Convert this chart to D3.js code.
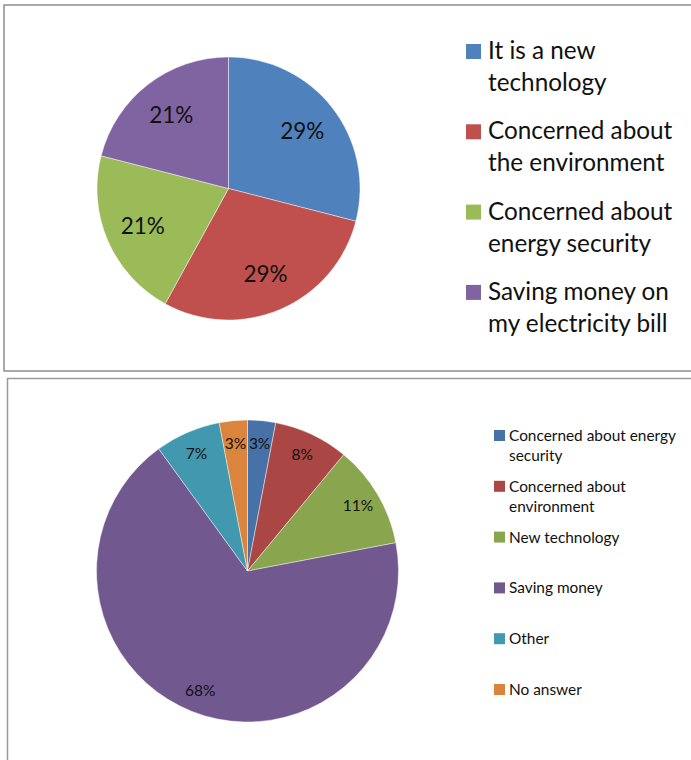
<!DOCTYPE html>
<html>
<head>
<meta charset="utf-8">
<script src="https://cdn.jsdelivr.net/npm/d3@7"></script>
<style>
  html, body { margin: 0; padding: 0; background: #fff; }
  svg { display: block; font-family: Lato, "Open Sans", sans-serif; }
</style>
</head>
<body>
<svg id="chart" width="691" height="760"></svg>
<script>
// Survey 1: reasons for interest (percent of respondents)
const topCategories = ["It is a new technology", "Concerned about the environment",
                       "Concerned about energy security", "Saving money on my electricity bill"];
const topLegendLines = [["It is a new", "technology"], ["Concerned about", "the environment"],
                        ["Concerned about", "energy security"], ["Saving money on", "my electricity bill"]];
const topValues = [29, 29, 21, 21];
const topColors = ["#4f81bd", "#c0504d", "#9bbb59", "#8064a2"];

// Survey 2: main reason (percent of respondents)
const bottomCategories = ["Concerned about energy security", "Concerned about environment",
                          "New technology", "Saving money", "Other", "No answer"];
const bottomLegendLines = [["Concerned about energy", "security"], ["Concerned about", "environment"],
                           ["New technology"], ["Saving money"], ["Other"], ["No answer"]];
const bottomValues = [3, 8, 11, 68, 7, 3];
const bottomColors = ["#4672a8", "#aa4643", "#89a54e", "#71588f", "#4198af", "#db843d"];

const svg = d3.select("#chart");

// chart frames
svg.append("rect").attr("x", 4).attr("y", 5).attr("width", 720).attr("height", 366)
  .attr("fill", "none").attr("stroke", "#8f8f8f").attr("stroke-width", 1.5);
svg.append("rect").attr("x", 7.5).attr("y", 378.5).attr("width", 720).attr("height", 420)
  .attr("fill", "none").attr("stroke", "#9a9a9a").attr("stroke-width", 1.5);

function drawPie(cfg) {
  const pie = d3.pie().sort(null).value(d => d.value);
  const arcs = pie(cfg.values.map((v, i) => ({ value: v, i })));
  const arc = d3.arc().innerRadius(0).outerRadius(cfg.r);
  const labelArc = d3.arc().innerRadius(cfg.r * cfg.labelK).outerRadius(cfg.r * cfg.labelK);
  const g = svg.append("g").attr("transform", `translate(${cfg.cx},${cfg.cy})`);
  g.selectAll("path.slice").data(arcs).join("path")
    .attr("class", "slice")
    .attr("d", arc)
    .attr("fill", d => cfg.colors[d.data.i])
    .attr("stroke", "#ffffff").attr("stroke-opacity", 0.55).attr("stroke-width", 0.8);
  g.selectAll("text.lbl").data(arcs).join("text")
    .attr("class", "lbl")
    .attr("transform", d => `translate(${labelArc.centroid(d)})`)
    .attr("text-anchor", "middle")
    .attr("dy", "0.36em")
    .attr("font-size", cfg.labelSize)
    .attr("fill", "#111")
    .text(d => d.data.value + "%");

  const lg = svg.append("g");
  cfg.legend.forEach((lines, i) => {
    const y0 = cfg.legY + i * cfg.legStep;
    lg.append("rect")
      .attr("x", cfg.legX).attr("y", y0 - cfg.sq)
      .attr("width", cfg.sq).attr("height", cfg.sq)
      .attr("fill", cfg.colors[i]);
    const t = lg.append("text").attr("font-size", cfg.legSize).attr("fill", "#111");
    lines.forEach((ln, j) => {
      t.append("tspan").attr("x", cfg.legX + cfg.textGap).attr("y", y0 + j * cfg.lineH).text(ln);
    });
  });
}

drawPie({
  values: topValues, colors: topColors, cx: 228.5, cy: 188.5, r: 131.5,
  labelK: 0.71, labelSize: 22.5,
  legend: topLegendLines, legX: 466, legY: 59, legStep: 80.3, lineH: 32,
  sq: 15, textGap: 22, legSize: 24.3
});

drawPie({
  values: bottomValues, colors: bottomColors, cx: 247.5, cy: 571, r: 151,
  labelK: 0.85, labelSize: 15.5,
  legend: bottomLegendLines, legX: 494, legY: 441, legStep: 50.8, lineH: 20,
  sq: 11, textGap: 15, legSize: 15.4
});
</script>
</body>
</html>
